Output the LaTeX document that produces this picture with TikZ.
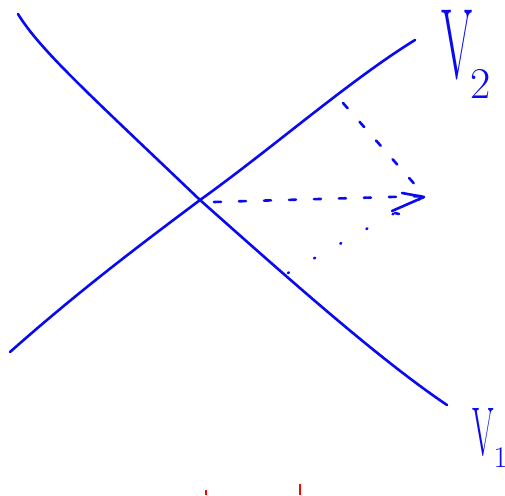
\documentclass[tikz,border=0pt]{standalone}
\usepackage{fontspec}
\usetikzlibrary{arrows.meta}
\definecolor{pen}{RGB}{10,10,240}
\tikzset{
  stroke/.style={draw=pen, line width=2.6pt, line cap=round, line join=round},
  dash1/.style={draw=pen, line width=2.6pt, line cap=round, dash pattern=on 7pt off 18pt},
  dotline/.style={draw=pen, line width=2.6pt, line cap=round, dash pattern=on 1pt off 29pt},
  lbl/.style={text=pen, inner sep=0pt, anchor=north west}
}
\begin{document}
\begin{tikzpicture}[x=1pt,y=-1pt]
\useasboundingbox (0,0) rectangle (505,495);
\clip (0,0) rectangle (505,495);
\coordinate (O) at (200,200);
\coordinate (T) at (425,196);
% line V1
\draw[stroke] (18,14) .. controls (40,50) and (90,95) .. (O)
  .. controls (290,280) and (380,360) .. (447,405);
% line V2
\draw[stroke] (10,352) .. controls (80,290) and (140,245) .. (O)
  .. controls (270,150) and (350,80) .. (415,40);
% dashed vectors
\draw[dash1] (214,202) -- (T);
\draw[dash1] (343,103) -- (T);
\draw[dotline] (288,273) -- (T);
% arrow head
\draw[stroke] (402,193) -- (424,197) -- (392,211);
\draw[stroke] (395,213) -- (399,214);
% labels
\node[lbl] (v2) at (441,10) {\fontsize{100}{100}\selectfont\scalebox{0.45}[1]{V}\hspace{-2pt}\raisebox{-20pt}{\fontsize{44}{44}\selectfont 2}};
\node[lbl] (v1) at (472,408) {\fontsize{69}{69}\selectfont\scalebox{0.45}[1]{V}\raisebox{-12pt}{\fontsize{30}{30}\selectfont 1}};
% red marks
\draw[draw=red, line width=2.4pt] (206,490) -- (206,495);
\draw[draw=red, line width=2.4pt] (300,484) -- (300,495);
\end{tikzpicture}
\end{document}
